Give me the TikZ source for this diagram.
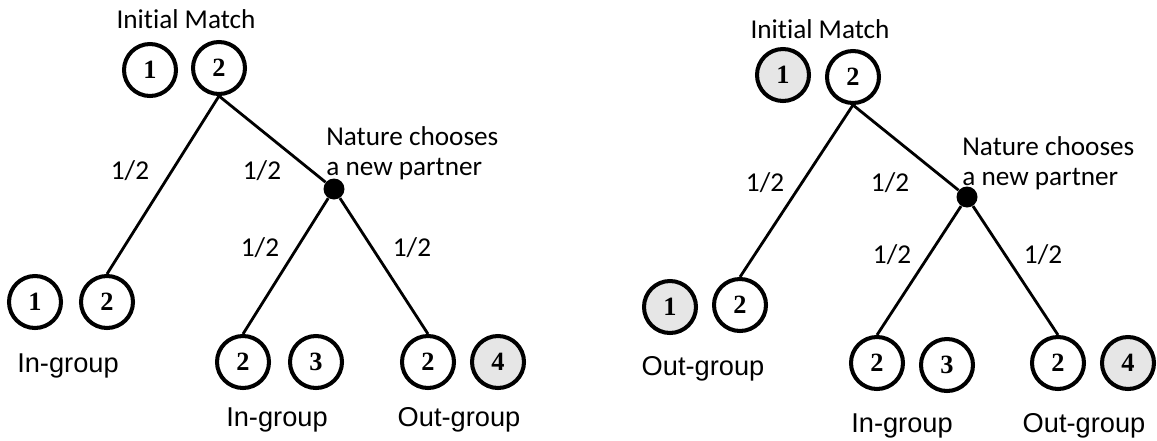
\documentclass[tikz,border=0pt]{standalone}
\usepackage{fontspec}
\setmainfont{Carlito}[Ligatures=NoCommon]
\newfontfamily\grpfont{Liberation Sans}
\newfontfamily\numfont{Liberation Serif}
\usepackage{tikz}
\usetikzlibrary{positioning}
\usepackage{xcolor}
\definecolor{outgrey}{RGB}{230,230,230}
\tikzstyle{player} = [circle, draw=black, line width=2.3pt, fill=white, minimum size=1.04cm, inner sep=0pt, font=\numfont\bfseries\fontsize{15}{15}\selectfont]
\tikzstyle{outplayer} = [player, fill=outgrey]
\tikzstyle{chance} = [circle, fill=black, minimum size=0.42cm, inner sep=0pt]
\tikzstyle{branch} = [line width=1.6pt]
\tikzstyle{prob} = [anchor=base, inner sep=0pt, font=\fontsize{15.5}{17}\selectfont]
\tikzstyle{title} = [anchor=base, inner sep=0pt, font=\fontsize{15.5}{17}\selectfont]
\tikzstyle{nature} = [anchor=north west, align=left, inner sep=0pt, font=\fontsize{15.5}{17}\selectfont]
\tikzstyle{grouplabel} = [anchor=base, inner sep=0pt, font=\grpfont\fontsize{15.5}{17}\selectfont]

\begin{document}
\begin{tikzpicture}[x=0.02cm, y=-0.02cm]
\useasboundingbox (0,0) rectangle (1157,440);

% Left tree: initial match
\node[title] (Ltitle) at (186,28) {Initial Match};
\node[player] (Ltop1) at (150,70) {1};
\node[player] (Ltop2) at (219,68) {2};

% Left tree: nature
\node[chance] (Lnat) at (334,189) {};
\node[nature] (Lnattext) at (326,126) {Nature chooses\\a new partner};

% Left tree: outcomes
\node[player] (Lll1) at (35,302) {1};
\node[player] (Lll2) at (107,302) {2};
\node[player] (Lm2) at (243,362) {2};
\node[player] (Lm3) at (316,362) {3};
\node[player] (Lr2) at (428,362) {2};
\node[outplayer] (Lr4) at (498,362) {4};

% Left tree: branches
\draw[branch] (Ltop2.south) -- (Lll2.north);
\draw[branch] (Ltop2.south) -- (Lnat);
\draw[branch] (Lnat) -- (Lm2.north);
\draw[branch] (Lnat) -- (Lr2.north);

\node[prob] (Lp1) at (130,179) {1/2};
\node[prob] (Lp2) at (262,179) {1/2};
\node[prob] (Lp3) at (260,256) {1/2};
\node[prob] (Lp4) at (412,256) {1/2};

\node[grouplabel] (Lg1) at (68,372) {In-group};
\node[grouplabel] (Lg2) at (277,426) {In-group};
\node[grouplabel] (Lg3) at (459,426) {Out-group};

% Right tree: initial match
\node[title] (Rtitle) at (820,38) {Initial Match};
\node[outplayer] (Rtop1) at (783,75) {1};
\node[player] (Rtop2) at (853,77) {2};

% Right tree: nature
\node[chance] (Rnat) at (967,197) {};
\node[nature] (Rnattext) at (962,136) {Nature chooses\\a new partner};

% Right tree: outcomes
\node[outplayer] (Rll1) at (670,307) {1};
\node[player] (Rll2) at (740,305) {2};
\node[player] (Rm2) at (877,363) {2};
\node[player] (Rm3) at (947,365) {3};
\node[player] (Rr2) at (1058,363) {2};
\node[outplayer] (Rr4) at (1128,363) {4};

% Right tree: branches
\draw[branch] (Rtop2.south) -- (Rll2.north);
\draw[branch] (Rtop2.south) -- (Rnat);
\draw[branch] (Rnat) -- (Rm2.north);
\draw[branch] (Rnat) -- (Rr2.north);

\node[prob] (Rp1) at (765,191) {1/2};
\node[prob] (Rp2) at (890,191) {1/2};
\node[prob] (Rp3) at (892,263) {1/2};
\node[prob] (Rp4) at (1043,263) {1/2};

\node[grouplabel] (Rg1) at (703,375) {Out-group};
\node[grouplabel] (Rg2) at (902,432) {In-group};
\node[grouplabel] (Rg3) at (1084,432) {Out-group};
\end{tikzpicture}
\end{document}
